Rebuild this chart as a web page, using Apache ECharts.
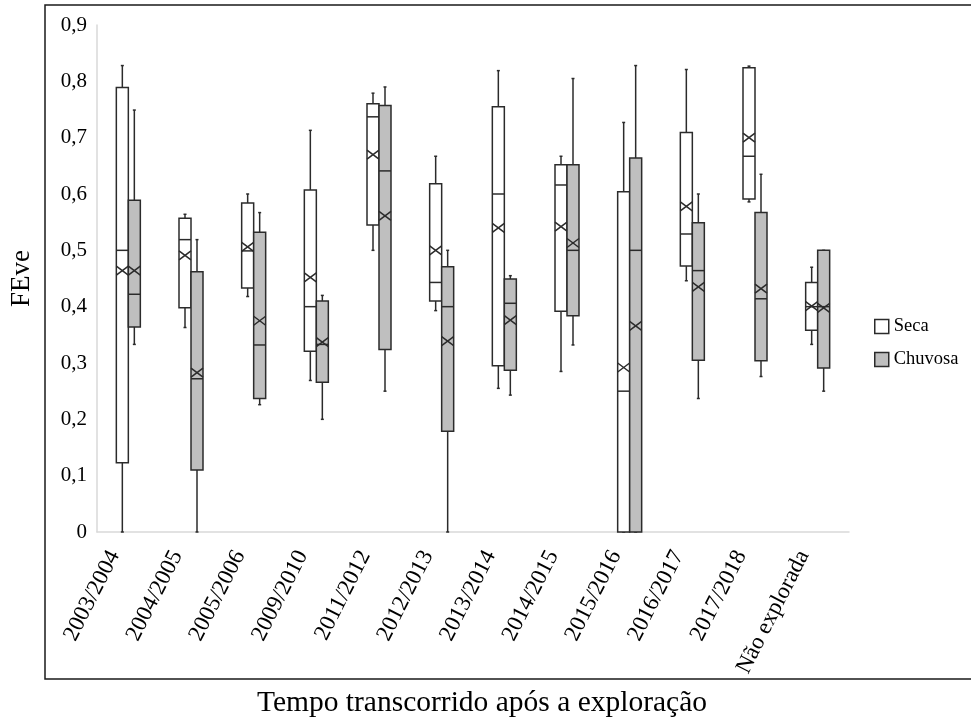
<!DOCTYPE html>
<html>
<head>
<meta charset="utf-8">
<script src="https://cdn.jsdelivr.net/npm/echarts@6/dist/echarts.min.js"></script>
<style>
  html, body { margin: 0; padding: 0; background: #fff; }
  #chart { width: 971px; height: 721px; }
</style>
</head>
<body>
<div id="chart"></div>
<script>
// categorias do eixo x
const categories = ['2003/2004', '2004/2005', '2005/2006', '2009/2010', '2011/2012', '2012/2013',
  '2013/2014', '2014/2015', '2015/2016', '2016/2017', '2017/2018', 'Não explorada']

// [min, Q1, mediana, Q3, max]
const secaBox = [
  [0, 0.123, 0.500, 0.789, 0.828],
  [0.363, 0.398, 0.519, 0.557, 0.564],
  [0.418, 0.433, 0.499, 0.584, 0.600],
  [0.269, 0.321, 0.400, 0.607, 0.713],
  [0.500, 0.545, 0.737, 0.760, 0.779],
  [0.393, 0.410, 0.443, 0.618, 0.667],
  [0.255, 0.295, 0.600, 0.755, 0.819],
  [0.285, 0.392, 0.616, 0.652, 0.667],
  [0, 0, 0.250, 0.604, 0.727],
  [0.446, 0.472, 0.529, 0.709, 0.821],
  [0.586, 0.591, 0.667, 0.824, 0.827],
  [0.333, 0.358, 0.400, 0.443, 0.470]
]
const secaMean = [0.464, 0.491, 0.506, 0.452, 0.670, 0.500, 0.540, 0.542, 0.292, 0.578, 0.700, 0.401]

const chuvosaBox = [
  [0.333, 0.364, 0.422, 0.589, 0.749],
  [0, 0.110, 0.272, 0.462, 0.519],
  [0.226, 0.237, 0.332, 0.532, 0.567],
  [0.200, 0.266, 0.333, 0.410, 0.420],
  [0.250, 0.324, 0.641, 0.757, 0.790],
  [0, 0.179, 0.400, 0.471, 0.500],
  [0.243, 0.287, 0.406, 0.449, 0.455],
  [0.332, 0.384, 0.500, 0.652, 0.805],
  [0, 0, 0.500, 0.664, 0.828],
  [0.237, 0.305, 0.464, 0.549, 0.600],
  [0.276, 0.304, 0.414, 0.567, 0.635],
  [0.250, 0.291, 0.400, 0.500, 0.500]
]
const chuvosaMean = [0.464, 0.283, 0.375, 0.337, 0.561, 0.339, 0.376, 0.513, 0.366, 0.435, 0.432, 0.398]

const font = 'Liberation Serif, Times New Roman, serif'
const lineColor = '#2b2b2b'

function buildData(box, mean) {
  return box.map((b, i) => [i].concat(b, [mean[i]]))
}

// desenha caixa + bigodes + media (X)
function boxRenderer(offset, fill) {
  return function (params, api) {
    const i = api.value(0)
    const cx = api.coord([i, 0])[0] + offset
    const y = k => api.coord([i, api.value(k)])[1]
    const yMin = y(1), yQ1 = y(2), yMed = y(3), yQ3 = y(4), yMax = y(5), yMean = y(6)
    const hw = 6
    const line = (x1, y1, x2, y2) => ({
      type: 'line',
      shape: { x1, y1, x2, y2 },
      style: { stroke: lineColor, lineWidth: 1.5 }
    })
    const children = [
      line(cx, yMax, cx, yQ3),
      line(cx - 1.5, yMax, cx + 1.5, yMax),
      line(cx, yQ1, cx, yMin),
      line(cx - 1.5, yMin, cx + 1.5, yMin),
      {
        type: 'rect',
        shape: { x: cx - hw, y: yQ3, width: hw * 2, height: yQ1 - yQ3 },
        style: { fill: fill, stroke: lineColor, lineWidth: 1.5 }
      },
      line(cx - hw, yMed, cx + hw, yMed),
      line(cx - hw, yMean - 4.5, cx + hw, yMean + 4.5),
      line(cx - hw, yMean + 4.5, cx + hw, yMean - 4.5)
    ]
    return { type: 'group', children }
  }
}

const chart = echarts.init(document.getElementById('chart'))
chart.setOption({
  backgroundColor: '#fff',
  animation: false,
  grid: { left: 91, right: 122, top: 25, bottom: 189 },
  legend: {
    orient: 'vertical',
    left: 869,
    top: 312,
    itemWidth: 14,
    itemHeight: 14,
    itemGap: 14,
    textStyle: { fontFamily: font, fontSize: 18.5, color: '#000' },
    data: [
      { name: 'Seca', icon: 'rect', itemStyle: { color: '#fff', borderColor: lineColor, borderWidth: 1.5 } },
      { name: 'Chuvosa', icon: 'rect', itemStyle: { color: '#bfbfbf', borderColor: lineColor, borderWidth: 1.5 } }
    ]
  },
  xAxis: {
    type: 'category',
    data: categories,
    axisLine: { lineStyle: { color: '#d9d9d9', width: 1.5 } },
    axisTick: { show: false },
    axisLabel: {
      rotate: 63,
      margin: 18,
      verticalAlign: 'bottom',
      padding: [0, 8, 0, 0],
      interval: 0,
      fontFamily: font,
      fontSize: 23,
      color: '#000'
    }
  },
  yAxis: {
    type: 'value',
    min: 0,
    max: 0.9,
    interval: 0.1,
    name: 'FEve',
    nameLocation: 'middle',
    nameGap: 62,
    nameTextStyle: { fontFamily: font, fontSize: 27, color: '#000' },
    axisLine: { show: true, lineStyle: { color: '#d9d9d9', width: 1.5 } },
    axisTick: { show: false },
    splitLine: { show: false },
    axisLabel: {
      margin: 10,
      fontFamily: font,
      fontSize: 21,
      color: '#000',
      formatter: v => (v === 0 ? '0' : v.toFixed(1).replace('.', ','))
    }
  },
  graphic: [
    {
      type: 'rect',
      z: -1,
      shape: { x: 45, y: 5, width: 935, height: 674 },
      style: { fill: 'none', stroke: '#1a1a1a', lineWidth: 1.5 }
    },
    {
      type: 'text',
      x: 482,
      y: 703,
      style: {
        text: 'Tempo transcorrido após a exploração',
        fontFamily: font,
        fontSize: 29.5,
        fill: '#000',
        align: 'center',
        verticalAlign: 'middle'
      }
    }
  ],
  series: [
    {
      name: 'Seca',
      type: 'custom',
      itemStyle: { color: '#fff' },
      renderItem: boxRenderer(-6, '#fff'),
      encode: { x: 0, y: [1, 2, 3, 4, 5, 6] },
      data: buildData(secaBox, secaMean)
    },
    {
      name: 'Chuvosa',
      type: 'custom',
      itemStyle: { color: '#bfbfbf' },
      renderItem: boxRenderer(6, '#bfbfbf'),
      encode: { x: 0, y: [1, 2, 3, 4, 5, 6] },
      data: buildData(chuvosaBox, chuvosaMean)
    }
  ]
})
</script>
</body>
</html>
